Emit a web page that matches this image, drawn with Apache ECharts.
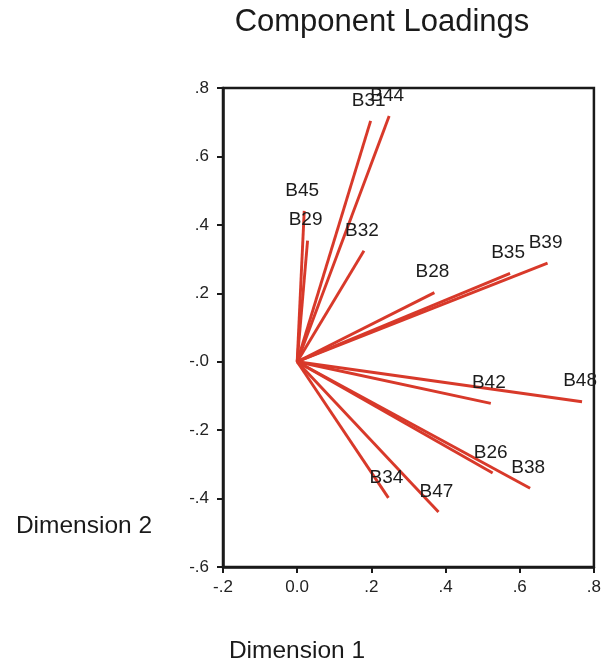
<!DOCTYPE html>
<html>
<head>
<meta charset="utf-8">
<script src="https://cdn.jsdelivr.net/npm/echarts@6/dist/echarts.min.js"></script>
<style>
html,body{margin:0;padding:0;background:#fff;}
#chart{width:604px;height:667px;}
</style>
</head>
<body>
<div id="chart"></div>
<script>
// Variable names and their component loadings
var names = ['B31','B44','B45','B29','B32','B28','B35','B39','B42','B48','B26','B38','B34','B47'];
var dim1  = [0.198, 0.248, 0.019, 0.028, 0.180, 0.370, 0.574, 0.675, 0.522, 0.768, 0.527, 0.628, 0.246, 0.381];
var dim2  = [0.704, 0.718, 0.441, 0.354, 0.324, 0.202, 0.258, 0.288, -0.122, -0.117, -0.325, -0.370, -0.398, -0.439];

// Tick labels
var xTickValues = [-0.2, 0.0, 0.2, 0.4, 0.6, 0.8];
var xTickLabels = ['-.2', '0.0', '.2', '.4', '.6', '.8'];
var yTickValues = [-0.6, -0.4, -0.2, 0.0, 0.2, 0.4, 0.6, 0.8];
var yTickLabels = ['-.6', '-.4', '-.2', '-.0', '.2', '.4', '.6', '.8'];

function lookup(vals, labels, v) {
  for (var i = 0; i < vals.length; i++) {
    if (Math.abs(vals[i] - v) < 1e-6) return labels[i];
  }
  return '';
}

var FONT = "'Liberation Sans', Arial, sans-serif";
var RED = '#d8392a';

var series = names.map(function (n, i) {
  return {
    type: 'line',
    name: n,
    data: [[0, 0], [dim1[i], dim2[i]]],
    showSymbol: false,
    symbol: 'none',
    lineStyle: { color: RED, width: 2.9 },
    silent: true,
    z: 2
  };
});

series.push({
  type: 'scatter',
  name: 'labels',
  data: names.map(function (n, i) { return { value: [dim1[i], dim2[i]], name: n }; }),
  symbolSize: 0,
  silent: true,
  itemStyle: { opacity: 1, color: RED },
  label: {
    show: true,
    position: 'top',
    distance: 11,
    offset: [-2, 0],
    formatter: function (p) { return p.name; },
    fontFamily: FONT,
    fontSize: 19,
    color: '#1c1c1c',
    opacity: 1
  },
  z: 3
});

var chart = echarts.init(document.getElementById('chart'), null, { renderer: 'canvas' });
chart.setOption({
  animation: false,
  backgroundColor: '#ffffff',
  grid: {
    left: 223, right: 10, top: 88, bottom: 100,
    show: true, borderColor: '#1a1a1a', borderWidth: 2.5, backgroundColor: 'transparent'
  },
  xAxis: {
    type: 'value', min: -0.2, max: 0.8, interval: 0.2,
    axisLine: { show: true, onZero: false, lineStyle: { color: '#1a1a1a', width: 2.5 } },
    axisTick: { show: true, inside: false, length: 6, lineStyle: { color: '#1a1a1a', width: 2 } },
    splitLine: { show: false },
    axisLabel: {
      margin: 12, fontFamily: FONT, fontSize: 17, color: '#222',
      formatter: function (v) { return lookup(xTickValues, xTickLabels, v); }
    }
  },
  yAxis: {
    type: 'value', min: -0.6, max: 0.8, interval: 0.2,
    axisLine: { show: true, onZero: false, lineStyle: { color: '#1a1a1a', width: 2.5 } },
    axisTick: { show: true, inside: false, length: 6, lineStyle: { color: '#1a1a1a', width: 2 } },
    splitLine: { show: false },
    axisLabel: {
      margin: 14, fontFamily: FONT, fontSize: 17, color: '#222',
      formatter: function (v) { return lookup(yTickValues, yTickLabels, v); }
    }
  },
  graphic: [
    { type: 'text', x: 382, y: 22, style: { text: 'Component Loadings', fontFamily: FONT, fontSize: 31, fill: '#1a1a1a', textAlign: 'center', textVerticalAlign: 'middle' } },
    { type: 'text', x: 84, y: 526, style: { text: 'Dimension 2', fontFamily: FONT, fontSize: 24.5, fill: '#1a1a1a', textAlign: 'center', textVerticalAlign: 'middle' } },
    { type: 'text', x: 297, y: 651, style: { text: 'Dimension 1', fontFamily: FONT, fontSize: 24.5, fill: '#1a1a1a', textAlign: 'center', textVerticalAlign: 'middle' } }
  ],
  series: series
});
</script>
</body>
</html>
